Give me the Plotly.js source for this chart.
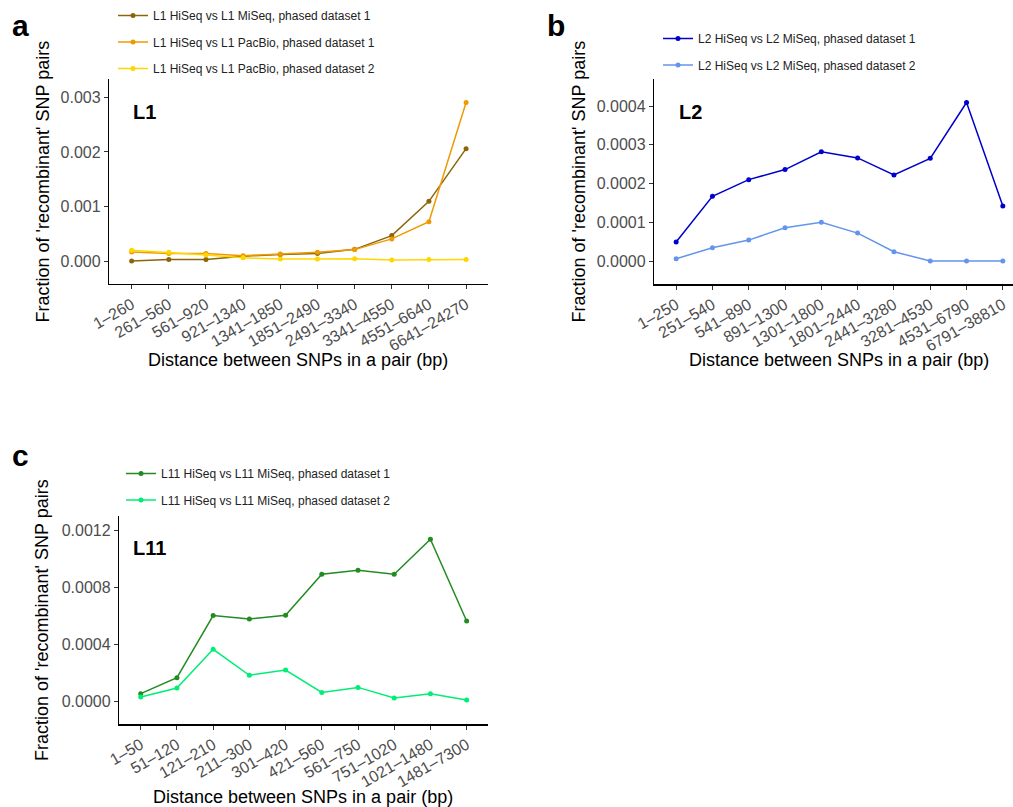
<!DOCTYPE html>
<html><head><meta charset="utf-8">
<script src="https://cdn.plot.ly/plotly-3.0.1.min.js"></script>
<style>html,body{margin:0;padding:0;background:#fff}</style>
</head><body><div id="chart" style="width:1013px;height:807px"></div>
<script>
// ---------- data ----------
const catsL1 = ["1–260","261–560","561–920","921–1340","1341–1850","1851–2490","2491–3340","3341–4550","4551–6640","6641–24270"];
const l1MiSeq1  = [0.00001,0.00004,0.00004,0.00010,0.00013,0.00015,0.000225,0.000475,0.00110,0.00206];
const l1PacBio1 = [0.000175,0.00015,0.00015,0.00011,0.00014,0.00017,0.00022,0.000415,0.00073,0.00290];
const l1PacBio2 = [0.00021,0.00017,0.00012,0.00007,0.00005,0.00005,0.000055,0.00003,0.00004,0.00004];

const catsL2 = ["1–250","251–540","541–890","891–1300","1301–1800","1801–2440","2441–3280","3281–4530","4531–6790","6791–38810"];
const l2MiSeq1 = [0.000049,0.000167,0.000210,0.000236,0.000282,0.000266,0.000222,0.000265,0.000409,0.000142];
const l2MiSeq2 = [0.000006,0.000034,0.000054,0.000086,0.000100,0.000072,0.000024,0.0,0.0,0.0];

const catsL11 = ["1–50","51–120","121–210","211–300","301–420","421–560","561–750","751–1020","1021–1480","1481–7300"];
const l11MiSeq1 = [0.000056,0.000168,0.000604,0.000580,0.000606,0.000894,0.000922,0.000894,0.00114,0.000566];
const l11MiSeq2 = [0.000033,0.000096,0.000367,0.000185,0.000222,0.000065,0.000100,0.000026,0.000056,0.000012];

const namesL1 = ["L1 HiSeq vs L1 MiSeq, phased dataset 1","L1 HiSeq vs L1 PacBio, phased dataset 1","L1 HiSeq vs L1 PacBio, phased dataset 2"];
const namesL2 = ["L2 HiSeq vs L2 MiSeq, phased dataset 1","L2 HiSeq vs L2 MiSeq, phased dataset 2"];
const namesL11 = ["L11 HiSeq vs L11 MiSeq, phased dataset 1","L11 HiSeq vs L11 MiSeq, phased dataset 2"];

const yTitle = "Fraction of 'recombinant' SNP pairs";
const xTitle = "Distance between SNPs in a pair (bp)";

// ---------- helpers ----------
const W = 1013, H = 807;
const px = x => x / W;
const py = y => 1 - y / H;
const FONT = "Liberation Sans, Arial, Helvetica, sans-serif";

function tr(x, y, name, color, xa, ya, leg, grp) {
  return {
    type: "scatter", mode: "lines+markers", x: x, y: y, name: name,
    xaxis: xa, yaxis: ya, legend: leg, legendgroup: grp,
    line: {color: color, width: 1.5},
    marker: {color: color, size: 5},
    cliponaxis: false
  };
}

const data = [
  tr(catsL1, l1MiSeq1, namesL1[0], "#8B6508", "x", "y", "legend", "a1"),
  tr(catsL1, l1PacBio1, namesL1[1], "#EE9A00", "x", "y", "legend", "a2"),
  tr(catsL1, l1PacBio2, namesL1[2], "#FFD700", "x", "y", "legend", "a3"),
  tr(catsL2, l2MiSeq1, namesL2[0], "#0000CD", "x2", "y2", "legend2", "b1"),
  tr(catsL2, l2MiSeq2, namesL2[1], "#6495ED", "x2", "y2", "legend2", "b2"),
  tr(catsL11, l11MiSeq1, namesL11[0], "#228B22", "x3", "y3", "legend3", "c1"),
  tr(catsL11, l11MiSeq2, namesL11[1], "#00EE76", "x3", "y3", "legend3", "c2")
];

function xax(domain, range, anchor) {
  return {
    domain: domain, range: range, anchor: anchor, type: "category",
    showline: true, linecolor: "#000", linewidth: 1.2, mirror: false,
    ticks: "outside", ticklen: 4, tickcolor: "#333", tickwidth: 1,
    showgrid: false, zeroline: false, tickangle: -30,
    tickfont: {family: FONT, size: 16, color: "#4D4D4D"}
  };
}
function yax(domain, range, anchor, tickvals, fmt) {
  return {
    domain: domain, range: range, anchor: anchor,
    showline: true, linecolor: "#000", linewidth: 1.2,
    ticks: "outside", ticklen: 4, tickcolor: "#333", tickwidth: 1,
    showgrid: false, zeroline: false,
    tickmode: "array", tickvals: tickvals, tickformat: fmt,
    tickfont: {family: FONT, size: 16, color: "#4D4D4D"}
  };
}
function leg(x, y) {
  return {
    x: px(x), y: py(y), xanchor: "left", yanchor: "top",
    font: {family: FONT, size: 12, color: "#222"},
    bgcolor: "rgba(0,0,0,0)", borderwidth: 0, tracegroupgap: 7.5,
    orientation: "v"
  };
}

const annotations = [
  {text: "<b>a</b>", x: px(20), y: py(25), font: {size: 30}},
  {text: "<b>b</b>", x: px(556), y: py(25), font: {size: 30}},
  {text: "<b>c</b>", x: px(20), y: py(455), font: {size: 30}},
  {text: "<b>L1</b>", x: px(144), y: py(112), font: {size: 20}},
  {text: "<b>L2</b>", x: px(690), y: py(112), font: {size: 20}},
  {text: "<b>L11</b>", x: px(149), y: py(548), font: {size: 20}},
  {text: xTitle, x: px(298), y: py(360), font: {size: 18}},
  {text: xTitle, x: px(839), y: py(360), font: {size: 18}},
  {text: xTitle, x: px(303), y: py(797), font: {size: 18}},
  {text: yTitle, x: px(42), y: py(181.5), font: {size: 18}, textangle: -90},
  {text: yTitle, x: px(578), y: py(181.5), font: {size: 18}, textangle: -90},
  {text: yTitle, x: px(42), y: py(620), font: {size: 18}, textangle: -90}
].map(a => Object.assign({xref: "paper", yref: "paper", showarrow: false,
  xanchor: "center", yanchor: "middle"}, a, {font: Object.assign({family: FONT, color: "#000"}, a.font)}));

const layout = {
  width: W, height: H,
  margin: {l: 0, r: 0, t: 0, b: 0, pad: 0},
  paper_bgcolor: "#fff", plot_bgcolor: "#fff",
  font: {family: FONT},
  showlegend: true,
  xaxis:  xax([px(109), px(488)], [-0.61, 9.59], "y"),
  yaxis:  yax([py(284), py(79)], [-0.000407, 0.00333], "x", [0, 0.001, 0.002, 0.003], ".3f"),
  xaxis2: xax([px(654), 1], [-0.61, 9.28], "y2"),
  yaxis2: yax([py(284.3), py(79)], [-0.0000601, 0.0004697], "x2", [0, 0.0001, 0.0002, 0.0003, 0.0004], ".4f"),
  xaxis3: xax([px(119), px(488)], [-0.6, 9.59], "y3"),
  yaxis3: yax([py(724.3), py(516)], [-0.000159, 0.001303], "x3", [0, 0.0004, 0.0008, 0.0012], ".4f"),
  legend:  leg(113, 1),
  legend2: leg(658, 24),
  legend3: leg(121, 459),
  annotations: annotations
};

Plotly.newPlot("chart", data, layout, {displayModeBar: false, staticPlot: true});
</script>
</body></html>
